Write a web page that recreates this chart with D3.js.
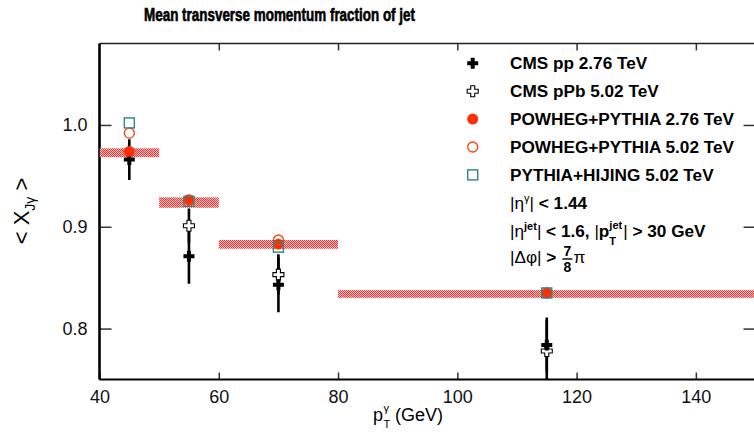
<!DOCTYPE html>
<html>
<head>
<meta charset="utf-8">
<script src="https://cdn.jsdelivr.net/npm/d3@7"></script>
<style>
  body { margin: 0; background: #fff; }
  text { font-family: "Liberation Sans", Arial, Helvetica, sans-serif; }
</style>
</head>
<body>
<svg id="chart" width="754" height="438"></svg>
<script>
// pT gamma bins (GeV)
var ptCenter = [45, 55, 70, 115];
var binLow = [40, 50, 60, 80];
var binHigh = [50, 60, 80, 150];

// CMS data
var cmsPP = [0.966, 0.871, 0.843, 0.784];
var cmsPPErr = [0.020, 0.027, 0.027, 0.027];
var cmsPPb = [null, 0.901, 0.853, 0.778];
var cmsPPbErr = [null, 0.017, 0.020, 0.030];

// MC
var powheg276 = [0.974, 0.926, 0.883, 0.835];
var powheg502 = [0.992, 0.9265, 0.887, 0.835];
var hijing502 = [1.002, 0.925, 0.880, 0.835];
var bandCenter = [0.9727, 0.9238, 0.8827, 0.834];
var bandHalf = [0.0044, 0.0051, 0.0043, 0.0038];

var xTicks = [40, 60, 80, 100, 120, 140];
var yTicks = [0.8, 0.9, 1.0];

var svg = d3.select('#chart');

var L = 99.5, R = 755.5, T = 43.5, B = 379.5;
var x = d3.scaleLinear().domain([40, 150]).range([L, R]);
var y = d3.scaleLinear().domain([0.75, 1.08]).range([B, T]);

// dither pattern for bands
var defs = svg.append('defs');
var pat = defs.append('pattern')
  .attr('id', 'dither')
  .attr('patternUnits', 'userSpaceOnUse')
  .attr('width', 2).attr('height', 2);
pat.append('rect').attr('width', 2).attr('height', 2).attr('fill', '#ffd2d2');
pat.append('rect').attr('x', 0).attr('y', 0).attr('width', 1).attr('height', 1).attr('fill', '#ff2626');
pat.append('rect').attr('x', 1).attr('y', 1).attr('width', 1).attr('height', 1).attr('fill', '#ff2626');

defs.append('clipPath').attr('id', 'clip')
  .append('rect').attr('x', L).attr('y', T).attr('width', R - L).attr('height', B - T);

// title
svg.append('text')
  .attr('x', 279.5).attr('y', 21)
  .attr('text-anchor', 'middle')
  .attr('font-size', 17.5).attr('font-weight', 'bold')
  .attr('stroke', '#000').attr('stroke-width', 0.6)
  .attr('textLength', 271).attr('lengthAdjust', 'spacingAndGlyphs')
  .text('Mean transverse momentum fraction of jet');

// axes (ticks inward)
var xAxis = svg.append('g')
  .attr('transform', 'translate(0,' + B + ')')
  .call(d3.axisBottom(x).tickValues(xTicks).tickSize(-7).tickPadding(11).tickFormat(d3.format('d')));
var yAxis = svg.append('g')
  .attr('transform', 'translate(' + L + ',0)')
  .call(d3.axisLeft(y).tickValues(yTicks).tickSize(-12).tickPadding(12).tickFormat(d3.format('.1f')));
var xTop = svg.append('g')
  .attr('transform', 'translate(0,' + T + ')')
  .call(d3.axisTop(x).tickValues(xTicks.slice(1)).tickSize(-7).tickFormat(''));
var yRight = svg.append('g')
  .attr('transform', 'translate(' + R + ',0)')
  .call(d3.axisRight(y).tickValues(yTicks).tickSize(-12).tickFormat(''));

[xAxis, yAxis, xTop, yRight].forEach(function(g) {
  g.select('.domain').remove();
  g.selectAll('.tick line').attr('stroke', '#333').attr('stroke-width', 1.5);
  g.selectAll('.tick text').attr('font-size', 18).attr('fill', '#111')
    .attr('font-family', '"Liberation Sans", Arial, sans-serif');
});
xAxis.selectAll('.tick text').attr('dy', '0.71em');

// frame
svg.append('line').attr('x1', L).attr('x2', R).attr('y1', T).attr('y2', T)
  .attr('stroke', '#222').attr('stroke-width', 1.6);
svg.append('line').attr('x1', L).attr('x2', R).attr('y1', B).attr('y2', B)
  .attr('stroke', '#000').attr('stroke-width', 2.2);
svg.append('line').attr('x1', L).attr('x2', L).attr('y1', T).attr('y2', B)
  .attr('stroke', '#000').attr('stroke-width', 2.6);

var plot = svg.append('g').attr('clip-path', 'url(#clip)');

// POWHEG bands
plot.selectAll('rect.band')
  .data(ptCenter)
  .enter().append('rect')
  .attr('class', 'band')
  .attr('x', function(d, i) { return x(binLow[i]); })
  .attr('width', function(d, i) { return x(binHigh[i]) - x(binLow[i]); })
  .attr('y', function(d, i) { return y(bandCenter[i] + bandHalf[i]); })
  .attr('height', function(d, i) { return y(bandCenter[i] - bandHalf[i]) - y(bandCenter[i] + bandHalf[i]); })
  .attr('fill', 'url(#dither)');

function crossPath(s, w) {
  // plus outline, half-size s, half arm width w
  return 'M' + (-w) + ',' + (-s) + 'H' + w + 'V' + (-w) + 'H' + s + 'V' + w + 'H' + w +
    'V' + s + 'H' + (-w) + 'V' + w + 'H' + (-s) + 'V' + (-w) + 'H' + (-w) + 'Z';
}

function idx(vals) {
  return vals.map(function(v, i) { return i; }).filter(function(i) { return vals[i] !== null; });
}

function errBars(vals, errs) {
  plot.append('g').selectAll('line')
    .data(idx(vals))
    .enter().append('line')
    .attr('x1', function(i) { return x(ptCenter[i]); })
    .attr('x2', function(i) { return x(ptCenter[i]); })
    .attr('y1', function(i) { return y(vals[i] + errs[i]); })
    .attr('y2', function(i) { return y(vals[i] - errs[i]); })
    .attr('stroke', '#000').attr('stroke-width', 2.6);
}
errBars(cmsPPb, cmsPPbErr);
errBars(cmsPP, cmsPPErr);

// CMS pPb: open cross
plot.append('g').selectAll('path')
  .data(idx(cmsPPb)).enter().append('path')
  .attr('transform', function(i) { return 'translate(' + x(ptCenter[i]) + ',' + y(cmsPPb[i]) + ')'; })
  .attr('d', crossPath(5.5, 2))
  .attr('fill', '#fff').attr('stroke', '#000').attr('stroke-width', 1.1);

// CMS pp: filled cross
plot.append('g').selectAll('path')
  .data(idx(cmsPP)).enter().append('path')
  .attr('transform', function(i) { return 'translate(' + x(ptCenter[i]) + ',' + y(cmsPP[i]) + ')'; })
  .attr('d', crossPath(5.5, 2))
  .attr('fill', '#000');

// POWHEG 2.76 filled circle
plot.append('g').selectAll('circle')
  .data(idx(powheg276)).enter().append('circle')
  .attr('cx', function(i) { return x(ptCenter[i]); })
  .attr('cy', function(i) { return y(powheg276[i]); })
  .attr('r', 5.4).attr('fill', '#ff2d00');

// POWHEG 5.02 open circle
plot.append('g').selectAll('circle')
  .data(idx(powheg502)).enter().append('circle')
  .attr('cx', function(i) { return x(ptCenter[i]); })
  .attr('cy', function(i) { return y(powheg502[i]); })
  .attr('r', 5).attr('fill', 'none').attr('stroke', '#ff3d10').attr('stroke-width', 1.3);

// PYTHIA+HIJING open square
plot.append('g').selectAll('rect')
  .data(idx(hijing502)).enter().append('rect')
  .attr('x', function(i) { return x(ptCenter[i]) - 5; })
  .attr('y', function(i) { return y(hijing502[i]) - 5; })
  .attr('width', 10).attr('height', 10)
  .attr('fill', 'none').attr('stroke', '#2b8686').attr('stroke-width', 1.4);

// legend
var FS = 17.2;
var legX = 472.7, legTextX = 510, legY0 = 63.3, legDy = 27.9;
var legLabels = ['CMS pp 2.76 TeV', 'CMS pPb 5.02 TeV', 'POWHEG+PYTHIA 2.76 TeV',
  'POWHEG+PYTHIA 5.02 TeV', 'PYTHIA+HIJING 5.02 TeV'];
var leg = svg.append('g');
leg.selectAll('text.lab')
  .data(legLabels).enter().append('text')
  .attr('class', 'lab')
  .attr('x', legTextX)
  .attr('y', function(d, i) { return legY0 + i * legDy; })
  .attr('dy', '0.36em')
  .attr('font-size', FS).attr('font-weight', 'bold')
  .text(function(d) { return d; });
leg.append('path').attr('transform', 'translate(' + legX + ',' + legY0 + ')')
  .attr('d', crossPath(5.5, 2)).attr('fill', '#000');
leg.append('path').attr('transform', 'translate(' + legX + ',' + (legY0 + legDy) + ')')
  .attr('d', crossPath(5.5, 2)).attr('fill', '#fff').attr('stroke', '#000').attr('stroke-width', 1.1);
leg.append('circle').attr('cx', legX).attr('cy', legY0 + 2 * legDy).attr('r', 5.5).attr('fill', '#ff2d00');
leg.append('circle').attr('cx', legX).attr('cy', legY0 + 3 * legDy).attr('r', 5)
  .attr('fill', 'none').attr('stroke', '#ff3d10').attr('stroke-width', 1.3);
leg.append('rect').attr('x', legX - 5).attr('y', legY0 + 4 * legDy - 5).attr('width', 10).attr('height', 10)
  .attr('fill', 'none').attr('stroke', '#2b8686').attr('stroke-width', 1.4);

// cuts
var c1 = leg.append('text').attr('x', legTextX).attr('y', 209).attr('font-size', FS).attr('font-weight', 'bold');
c1.append('tspan').attr('font-weight', 'normal').text('|η');
c1.append('tspan').attr('font-size', 11).attr('dy', -7).attr('font-weight', 'normal').text('γ');
c1.append('tspan').attr('dy', 7).attr('font-weight', 'normal').text('|');
c1.append('tspan').text(' < 1.44');

var c2 = leg.append('text').attr('x', legTextX).attr('y', 237).attr('font-size', FS).attr('font-weight', 'bold');
c2.append('tspan').attr('font-weight', 'normal').text('|η');
c2.append('tspan').attr('font-size', 11).attr('dy', -7).text('jet');
c2.append('tspan').attr('dy', 7).attr('font-weight', 'normal').text('|');
c2.append('tspan').text(' < 1.6, ');
c2.append('tspan').attr('font-weight', 'normal').text('|');
c2.append('tspan').text('p');
var c2sub = leg.append('text').attr('font-size', 11).attr('font-weight', 'bold');
var c2sup = leg.append('text').attr('font-size', 11).attr('font-weight', 'bold').text('jet');
var c2end = leg.append('text').attr('font-size', FS).attr('font-weight', 'bold');
var pEnd = c2.node().getComputedTextLength() + legTextX;
c2sub.attr('x', pEnd).attr('y', 245).text('T');
c2sup.attr('x', pEnd).attr('y', 229);
var supEnd = pEnd + c2sup.node().getComputedTextLength() + 1;
c2end.attr('x', supEnd).attr('y', 237);
c2end.append('tspan').attr('font-weight', 'normal').text('|');
c2end.append('tspan').text(' > 30 GeV');

var c3 = leg.append('text').attr('x', legTextX).attr('y', 263).attr('font-size', FS);
c3.append('tspan').text('|Δφ|');
c3.append('tspan').attr('font-weight', 'bold').text(' >');
var fx = legTextX + c3.node().getComputedTextLength() + 11;
leg.append('text').attr('x', fx).attr('y', 256).attr('text-anchor', 'middle')
  .attr('font-size', 14).attr('font-weight', 'bold').text('7');
leg.append('line').attr('x1', fx - 5).attr('x2', fx + 5).attr('y1', 259).attr('y2', 259)
  .attr('stroke', '#000').attr('stroke-width', 1.4);
leg.append('text').attr('x', fx).attr('y', 272).attr('text-anchor', 'middle')
  .attr('font-size', 14).attr('font-weight', 'bold').text('8');
leg.append('text').attr('x', fx + 6).attr('y', 263).attr('font-size', FS).text('π');

// axis titles
var xl = svg.append('text').attr('x', 373).attr('y', 421).attr('font-size', 18);
xl.append('tspan').text('p');
var xlPos = 373 + xl.node().getComputedTextLength();
svg.append('text').attr('x', xlPos + 0.5).attr('y', 428).attr('font-size', 11).text('T');
svg.append('text').attr('x', xlPos + 0.5).attr('y', 412).attr('font-size', 11).text('γ');
svg.append('text').attr('x', xlPos + 12).attr('y', 421).attr('font-size', 18).text('(GeV)');

var yl = svg.append('g').attr('transform', 'translate(29,211) rotate(-90)');
var ylt = yl.append('text').attr('text-anchor', 'middle').attr('font-size', 22);
ylt.append('tspan').text('< X');
ylt.append('tspan').attr('font-size', 14).attr('dy', 6).text('Jγ');
ylt.append('tspan').attr('dy', -6).text(' >');
</script>
</body>
</html>
